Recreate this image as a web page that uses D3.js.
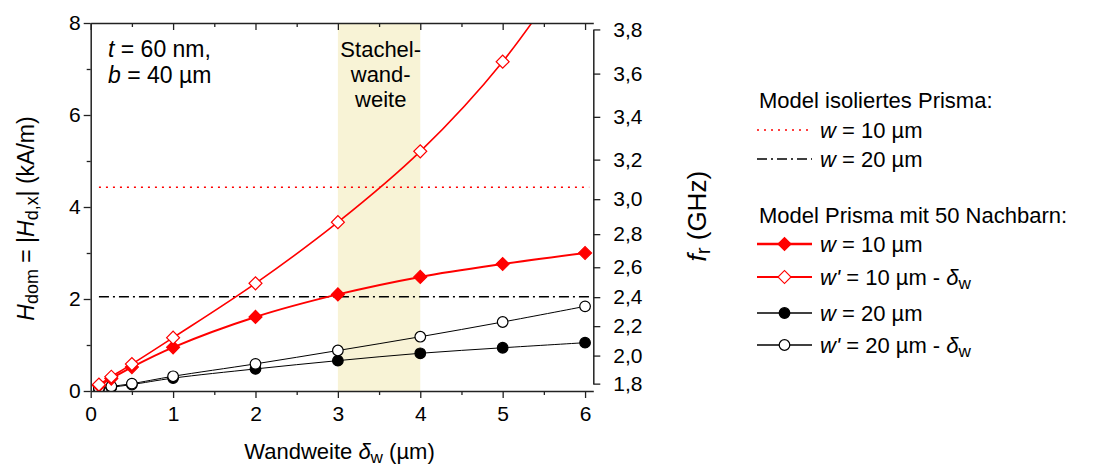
<!DOCTYPE html>
<html>
<head>
<meta charset="utf-8">
<script src="https://cdn.jsdelivr.net/npm/d3@7"></script>
<style>
  body { margin: 0; background: #fff; }
  svg { font-family: "Liberation Sans", Arial, sans-serif; }
</style>
</head>
<body>
<svg id="chart" width="1096" height="466"></svg>
<script>
// Wandweite (µm)
const xVals = [0.1, 0.25, 0.5, 1, 2, 3, 4, 5, 6];
// Hdom (kA/m), model prism with 50 neighbours
const w10 = [0.12, 0.27, 0.52, 0.95, 1.61, 2.10, 2.48, 2.76, 3.00];
const w10d = [0.14, 0.31, 0.585, 1.16, 2.34, 3.67, 5.21, 7.16, 9.7];
const w20 = [0.04, 0.08, 0.14, 0.28, 0.48, 0.66, 0.82, 0.94, 1.05];
const w20d = [0.065, 0.10, 0.16, 0.32, 0.59, 0.88, 1.18, 1.50, 1.84];
// isolated prism
const iso10 = 4.43;
const iso20 = 2.05;
// right axis: frequency ticks and the Hdom value each sits at
const freqTicks = [1.8, 2.0, 2.2, 2.4, 2.6, 2.8, 3.0, 3.2, 3.4, 3.6, 3.8];
const freqTickH = [0.16, 0.77, 1.41, 2.04, 2.69, 3.41, 4.17, 5.03, 5.96, 6.90, 7.86];
const xTicks = [0, 1, 2, 3, 4, 5, 6];
const yTicks = [0, 2, 4, 6, 8];

const red = "#ff0000";
const svg = d3.select("#chart");

const x = d3.scaleLinear().domain([0, 6.1]).range([90.7, 593.3]);
const y = d3.scaleLinear().domain([0, 8]).range([391, 23]);
const fScale = d3.scaleLinear().domain(freqTicks).range(freqTickH.map(y));

svg.append("clipPath").attr("id", "clip")
  .append("rect")
  .attr("x", x(0)).attr("y", y(8))
  .attr("width", x(6.1) - x(0)).attr("height", y(0) - y(8));

// Stachelwandweite band
svg.append("rect")
  .attr("x", x(3)).attr("y", y(8))
  .attr("width", x(4) - x(3)).attr("height", y(0) - y(8))
  .attr("fill", "#f8f3d6");

const band = svg.append("text")
  .attr("text-anchor", "middle")
  .attr("font-size", 22);
["Stachel-", "wand-", "weite"].forEach((t, i) => {
  band.append("tspan").attr("x", x(3.52)).attr("y", 57 + i * 25).text(t);
});

// isolated prism lines
svg.append("line")
  .attr("x1", x(0.1)).attr("x2", x(6.05))
  .attr("y1", y(iso10)).attr("y2", y(iso10))
  .attr("stroke", red).attr("stroke-width", 1.5)
  .attr("stroke-dasharray", "2,5");
svg.append("line")
  .attr("x1", x(0.1)).attr("x2", x(6.05))
  .attr("y1", y(iso20)).attr("y2", y(iso20))
  .attr("stroke", "#000").attr("stroke-width", 1.5)
  .attr("stroke-dasharray", "10,4,2,4");

// series
const series = [
  { vals: w20, color: "#000", width: 1, marker: "circle", fill: "#000" },
  { vals: w20d, color: "#000", width: 1, marker: "circle", fill: "#fff" },
  { vals: w10, color: red, width: 2, marker: "diamond", fill: red },
  { vals: w10d, color: red, width: 1.6, marker: "diamond", fill: "#fff" },
];

const line = d3.line()
  .x((d, i) => x(xVals[i]))
  .y(d => y(d))
  .curve(d3.curveCatmullRom);

const diamond = d3.symbol().type(d3.symbolSquare).size(84);

function drawMarker(g, type, color, fill, cx, cy) {
  if (type === "circle") {
    g.append("circle").attr("cx", cx).attr("cy", cy).attr("r", 5.3)
      .attr("fill", fill).attr("stroke", color).attr("stroke-width", 1.2);
  } else {
    g.append("path").attr("d", diamond())
      .attr("transform", `translate(${cx},${cy}) rotate(45)`)
      .attr("fill", fill).attr("stroke", color).attr("stroke-width", 1.2);
  }
}

const plot = svg.append("g").attr("clip-path", "url(#clip)");
series.forEach(s => {
  plot.append("path")
    .attr("d", line(s.vals))
    .attr("fill", "none")
    .attr("stroke", s.color)
    .attr("stroke-width", s.width);
  s.vals.forEach((v, i) => {
    if (v <= 8) drawMarker(plot, s.marker, s.color, s.fill, x(xVals[i]), y(v));
  });
});

// axes
const axisStyle = g => {
  g.selectAll(".domain").attr("stroke", "#222").attr("stroke-width", 1.5);
  g.selectAll(".tick line").attr("stroke", "#222").attr("stroke-width", 1.3);
  g.selectAll("text").attr("font-size", 21).attr("fill", "#000")
    .attr("font-family", "Liberation Sans, Arial, sans-serif");
};

// minor ticks
svg.append("g").attr("transform", `translate(0,${y(0)})`)
  .call(d3.axisBottom(x).tickValues(d3.range(0.5, 6.1, 1)).tickSize(4).tickFormat(""))
  .call(axisStyle).call(g => g.select(".domain").remove());
svg.append("g").attr("transform", `translate(0,${y(8)})`)
  .call(d3.axisBottom(x).tickValues(d3.range(0.5, 6.1, 1)).tickSize(4).tickFormat(""))
  .call(axisStyle).call(g => g.select(".domain").remove());
svg.append("g").attr("transform", `translate(${x(0)},0)`)
  .call(d3.axisLeft(y).tickValues([1, 3, 5, 7]).tickSize(4).tickFormat(""))
  .call(axisStyle).call(g => g.select(".domain").remove());

svg.append("g").attr("transform", `translate(0,${y(0)})`)
  .call(d3.axisBottom(x).tickValues(xTicks).tickSize(7).tickPadding(8)
    .tickSizeOuter(0).tickFormat(d3.format("d")))
  .call(axisStyle);
svg.append("g").attr("transform", `translate(0,${y(8)})`)
  .call(d3.axisBottom(x).tickValues(xTicks).tickSize(7).tickFormat("").tickSizeOuter(0))
  .call(axisStyle);
svg.append("g").attr("transform", `translate(${x(0)},0)`)
  .call(d3.axisLeft(y).tickValues(yTicks).tickSize(7).tickPadding(3)
    .tickSizeOuter(0).tickFormat(d3.format("d")))
  .call(axisStyle);
svg.append("g").attr("transform", `translate(${x(6.1)},0)`)
  .call(d3.axisRight(fScale).tickValues(freqTicks).tickSize(7).tickPadding(13)
    .tickSizeOuter(0).tickFormat(d => d3.format(".1f")(d).replace(".", ",")))
  .call(axisStyle);

// rich text helper: parts are [text, style] with style "i" or "sub"
function rich(sel, parts) {
  parts.forEach(([t, st]) => {
    const ts = sel.append("tspan").text(t);
    if (st === "i") ts.attr("font-style", "italic");
    if (st === "sub") ts.attr("font-size", "0.78em").attr("baseline-shift", "-22%");
  });
  return sel;
}

// axis titles
rich(svg.append("text").attr("x", x(3.02)).attr("y", 459)
  .attr("text-anchor", "middle").attr("font-size", 22),
  [["Wandweite "], ["δ", "i"], ["w", "sub"], [" (µm)"]]);

rich(svg.append("text").attr("transform", `translate(34,${y(3.75)}) rotate(-90)`)
  .attr("text-anchor", "middle").attr("font-size", 23),
  [["H", "i"], ["dom", "sub"], [" = |"], ["H", "i"], ["d,x", "sub"], ["| (kA/m)"]]);

rich(svg.append("text").attr("transform", `translate(706,${y(3.8)}) rotate(-90)`)
  .attr("text-anchor", "middle").attr("font-size", 26),
  [["f", "i"], ["r", "sub"], ["  (GHz)"]]);

// parameters
rich(svg.append("text").attr("x", 108).attr("y", 57).attr("font-size", 23),
  [["t", "i"], [" = 60 nm,"]]);
rich(svg.append("text").attr("x", 108).attr("y", 83).attr("font-size", 23),
  [["b", "i"], [" = 40 µm"]]);

// legend
const legend = svg.append("g");
const lx0 = 757, lx1 = 812, tx = 820;
legend.append("text").attr("x", 759).attr("y", 108).attr("font-size", 22)
  .text("Model isoliertes Prisma:");
legend.append("line").attr("x1", lx0).attr("x2", lx1).attr("y1", 130).attr("y2", 130)
  .attr("stroke", red).attr("stroke-width", 1.5).attr("stroke-dasharray", "2,5");
rich(legend.append("text").attr("x", tx).attr("y", 138).attr("font-size", 22),
  [["w", "i"], [" = 10 µm"]]);
legend.append("line").attr("x1", lx0).attr("x2", lx1).attr("y1", 159).attr("y2", 159)
  .attr("stroke", "#000").attr("stroke-width", 1.5).attr("stroke-dasharray", "10,4,2,4");
rich(legend.append("text").attr("x", tx).attr("y", 167).attr("font-size", 22),
  [["w", "i"], [" = 20 µm"]]);

legend.append("text").attr("x", 759).attr("y", 223).attr("font-size", 22)
  .text("Model Prisma mit 50 Nachbarn:");

const legRows = [
  { s: series[2], y: 244, parts: [["w", "i"], [" = 10 µm"]] },
  { s: series[3], y: 277, parts: [["w'", "i"], [" = 10 µm - "], ["δ", "i"], ["w", "sub"]] },
  { s: series[0], y: 313, parts: [["w", "i"], [" = 20 µm"]] },
  { s: series[1], y: 345, parts: [["w'", "i"], [" = 20 µm - "], ["δ", "i"], ["w", "sub"]] },
];
legRows.forEach(r => {
  legend.append("line").attr("x1", lx0).attr("x2", lx1).attr("y1", r.y).attr("y2", r.y)
    .attr("stroke", r.s.color).attr("stroke-width", r.s.width + 0.4);
  drawMarker(legend, r.s.marker, r.s.color, r.s.fill, (lx0 + lx1) / 2, r.y);
  rich(legend.append("text").attr("x", tx).attr("y", r.y + 8).attr("font-size", 22), r.parts);
});
</script>
</body>
</html>
